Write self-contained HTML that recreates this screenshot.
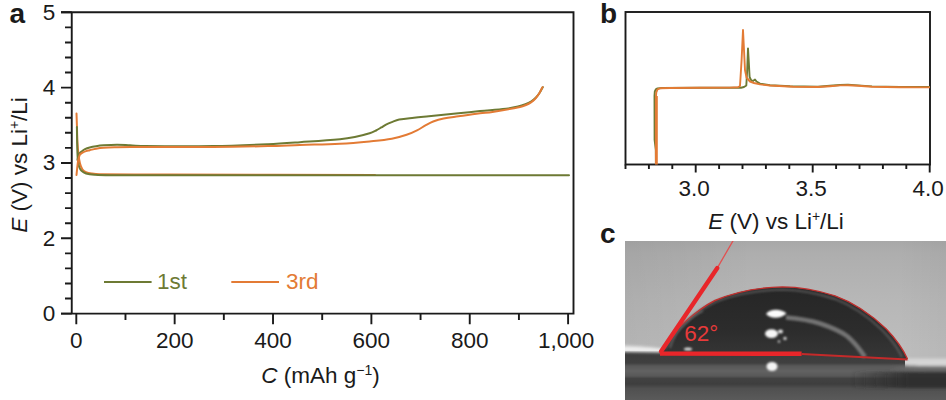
<!DOCTYPE html>
<html><head><meta charset="utf-8"><style>
html,body{margin:0;padding:0;background:#fff;}
svg{display:block;}
.t{font-family:"Liberation Sans",sans-serif;font-size:22.5px;fill:#1a1a1a;letter-spacing:0px;}
.b{font-family:"Liberation Sans",sans-serif;font-size:28px;font-weight:bold;fill:#1a1a1a;}
</style></head><body>
<svg width="946" height="400" viewBox="0 0 946 400">
<path d="M71.75,11.350000000000001 V314.55 M573.5,11.350000000000001 V314.55 M61,12.3 H573.5 M61,313.6 H573.5" stroke="#1a1a1a" stroke-width="1.9" fill="none"/>
<path d="M61,12.30H71.75M65,27.37H71.75M65,42.43H71.75M65,57.50H71.75M65,72.56H71.75M61,87.62H71.75M65,102.69H71.75M65,117.76H71.75M65,132.82H71.75M65,147.89H71.75M61,162.95H71.75M65,178.02H71.75M65,193.08H71.75M65,208.15H71.75M65,223.21H71.75M61,238.28H71.75M65,253.34H71.75M65,268.41H71.75M65,283.47H71.75M65,298.54H71.75M61,313.60H71.75" stroke="#1a1a1a" stroke-width="1.9" fill="none"/>
<path d="M76.30,313.6V324.3M125.48,313.6V320M174.66,313.6V324.3M223.84,313.6V320M273.02,313.6V324.3M322.20,313.6V320M371.38,313.6V324.3M420.56,313.6V320M469.74,313.6V324.3M518.92,313.6V320M568.10,313.6V324.3" stroke="#1a1a1a" stroke-width="1.9" fill="none"/>
<text x="55.3" y="19.60" text-anchor="end" class="t">5</text>
<text x="55.3" y="94.92" text-anchor="end" class="t">4</text>
<text x="55.3" y="170.25" text-anchor="end" class="t">3</text>
<text x="55.3" y="245.58" text-anchor="end" class="t">2</text>
<text x="55.3" y="320.90" text-anchor="end" class="t">0</text>
<text x="76.30" y="347.5" text-anchor="middle" class="t">0</text>
<text x="174.66" y="347.5" text-anchor="middle" class="t">200</text>
<text x="273.02" y="347.5" text-anchor="middle" class="t">400</text>
<text x="371.38" y="347.5" text-anchor="middle" class="t">600</text>
<text x="469.74" y="347.5" text-anchor="middle" class="t">800</text>
<text x="566.10" y="347.5" text-anchor="middle" class="t">1,000</text>
<text x="320.5" y="382.5" text-anchor="middle" class="t"><tspan font-style="italic">C</tspan> (mAh g<tspan dy="-8" font-size="14">−1</tspan><tspan dy="8">)</tspan></text>
<text transform="translate(27,165) rotate(-90)" text-anchor="middle" class="t"><tspan font-style="italic">E</tspan> (V) vs Li<tspan dy="-8" font-size="14">+</tspan><tspan dy="8">/Li</tspan></text>
<text x="9.4" y="22.8" class="b">a</text>
<text x="600" y="23.2" class="b">b</text>
<text x="600" y="243" class="b">c</text>
<path d="M104,282H151.6" stroke="#6d7a34" stroke-width="2.2"/>
<text x="157" y="289.3" class="t" style="fill:#6d7a34">1st</text>
<path d="M231.3,282H279" stroke="#e37b35" stroke-width="2.2"/>
<text x="286" y="289.3" class="t" style="fill:#e37b35">3rd</text>
<g fill="none" stroke-width="2.0" stroke-linejoin="round" stroke-linecap="round">
<path d="M76.5,113.5 L76.9,125 L77.3,140  C77.66,144.68 77.76,148.34 78.3,153 C78.74,156.80 79.06,159.79 80,163.5 C80.58,165.77 81.17,167.57 82.5,169.5 C83.40,170.81 84.54,171.57 86,172.2 C88.04,173.08 89.80,173.29 92,173.6 C94.86,174.01 97.11,174.17 100,174.2 C125.20,174.49 144.80,174.42 170,174.5 C243.80,174.74 301.20,174.88 375,175.1" stroke="#e37b35"/>
<path d="M76.9,127 L77.1,140  C77.21,144.32 77.21,147.68 77.4,152 C77.54,155.24 77.61,157.78 78,161 C78.26,163.19 78.46,164.93 79.2,167 C79.74,168.51 80.34,169.70 81.5,170.8 C82.87,172.11 84.19,172.96 86,173.5 C89.14,174.43 91.73,174.57 95,174.8 C100.39,175.18 104.60,175.20 110,175.2 C275.24,175.34 403.76,175.20 569,175.2" stroke="#6d7a34"/>
<path d="M77.5,160 C78.04,157.84 78.04,156.01 79,154 C79.54,152.87 80.53,152.38 81.5,151.6 C82.69,150.65 83.63,149.88 85,149.2 C86.61,148.40 87.96,147.97 89.7,147.5 C91.93,146.89 93.71,146.56 96,146.2 C98.69,145.77 100.79,145.49 103.5,145.3 C108.35,144.95 112.14,144.70 117,144.7 C121.68,144.70 125.32,145.07 130,145.3 C135.40,145.57 139.59,146.05 145,146.1 C169.48,146.34 188.52,146.48 213,146.1 C232.81,145.79 248.21,145.09 268,144.2 C279.53,143.68 288.49,143.00 300,142.2 C314.41,141.20 325.62,140.56 340,139.2 C345.36,138.69 349.52,138.05 354.8,137 C360.19,135.93 364.35,134.91 369.6,133.3 C372.00,132.56 373.75,131.62 376,130.5 C378.00,129.50 379.47,128.54 381.4,127.4 C383.07,126.41 384.27,125.48 386,124.6 C388.03,123.57 389.67,122.91 391.8,122.1 C394.43,121.10 396.44,120.13 399.2,119.6 C404.47,118.58 408.67,118.39 414,117.8 C419.32,117.21 423.47,116.84 428.8,116.3 C434.13,115.76 438.27,115.34 443.6,114.8 C448.93,114.26 453.07,113.84 458.4,113.3 C466.18,112.51 472.22,111.85 480,111.1 C489.36,110.20 496.67,109.81 506,108.7 C510.36,108.18 513.72,107.57 518,106.6 C520.72,105.98 522.80,105.30 525.4,104.3 C527.49,103.50 529.12,102.81 531,101.6 C532.96,100.34 534.36,99.16 536,97.5 C537.44,96.04 538.34,94.69 539.5,93 C540.32,91.80 540.78,90.76 541.5,89.5 C541.97,88.67 542.33,88.03 542.8,87.2" stroke="#6d7a34"/>
<path d="M76.5,175 L77.2,168 L78,161 L79,157 L80,154.4  C81.08,153.68 81.86,153.03 83,152.4 C84.03,151.83 84.88,151.47 86,151.1 C87.30,150.67 88.37,150.52 89.7,150.2 C91.97,149.66 93.71,149.12 96,148.7 C98.68,148.21 100.78,147.89 103.5,147.7 C108.35,147.35 112.14,147.32 117,147.2 C122.04,147.07 125.96,147.01 131,147 C160.52,146.94 183.48,147.19 213,147 C232.80,146.87 248.20,146.56 268,146.1 C279.52,145.84 288.48,145.38 300,145 C314.40,144.52 325.61,144.44 340,143.7 C350.67,143.15 358.96,142.41 369.6,141.4 C377.61,140.64 383.88,140.21 391.8,138.8 C397.23,137.83 401.37,136.56 406.6,134.8 C410.47,133.50 413.35,132.12 417,130.3 C420.28,128.66 422.58,126.95 425.8,125.2 C428.42,123.78 430.41,122.55 433.2,121.5 C436.85,120.13 439.78,119.29 443.6,118.5 C448.88,117.41 453.07,117.06 458.4,116.3 C466.17,115.19 472.21,114.29 480,113.3 C484.45,112.74 487.97,112.70 492.4,112 C502.37,110.43 510.11,109.06 520,107 C522.23,106.54 523.90,105.88 526,105 C527.87,104.22 529.31,103.53 531,102.4 C532.57,101.35 533.67,100.35 535,99 C536.13,97.85 536.86,96.81 537.8,95.5 C538.67,94.29 539.26,93.29 540,92 C540.60,90.95 540.94,90.07 541.5,89 C541.84,88.34 542.14,87.85 542.5,87.2" stroke="#e37b35"/>
</g>
<rect x="625.5" y="12.0" width="304.5" height="152.5" stroke="#1a1a1a" stroke-width="1.9" fill="none"/>
<path d="M625.50,164.5V169M648.90,164.5V169M672.30,164.5V169M695.70,164.5V172.5M719.10,164.5V169M742.50,164.5V169M765.90,164.5V169M789.30,164.5V169M812.70,164.5V172.5M836.10,164.5V169M859.50,164.5V169M882.90,164.5V169M906.30,164.5V169M929.70,164.5V172.5" stroke="#1a1a1a" stroke-width="1.9" fill="none"/>
<text x="694.20" y="195.5" text-anchor="middle" class="t">3.0</text>
<text x="811.20" y="195.5" text-anchor="middle" class="t">3.5</text>
<text x="928.20" y="195.5" text-anchor="middle" class="t">4.0</text>
<text x="776" y="229.3" text-anchor="middle" class="t"><tspan font-style="italic">E</tspan> (V) vs Li<tspan dy="-8" font-size="14">+</tspan><tspan dy="8">/Li</tspan></text>
<g fill="none" stroke-width="1.9" stroke-linejoin="round">
<path d="M655.9,164 L655.8,150 L654.6,140 L654.5,96 L654.8,91.5 L655.8,89.4 L657.5,88.4 L662,88 L700,87.8 L735,87.6 L741,87.7 L744,87 L746.3,85.5 L747.2,70 L748,48.4 L748.8,62 L749.6,77 L751,80 L753,81 L755,79.5 L756.5,81.5 L760,83.6 L770,85.2 L790,86.3 L818,86.8 L830,85.8 L840,85 L848,84.8 L858,85.4 L872,86.4 L900,86.9 L930,87.0" stroke="#6d7a34"/>
<path d="M655.9,164 L655.9,97 L656.3,92.5 L657.5,89.3 L660,88.3 L670,88 L700,87.8 L730,87.6 L738,87.3 L740,86 L741.6,60 L743,30 L744,50 L745,70 L746.5,77.5 L750,81.5 L754,83 L760,84.4 L770,85.5 L793,86.7 L818,87 L830,86.2 L840,85.4 L848,85.2 L858,85.8 L872,86.8 L900,87.3 L930,87.4" stroke="#e37b35"/>
<path d="M656.4,164.5 L656.4,96" stroke="#e37b35" stroke-width="2.8"/>
</g>

<defs>
 <linearGradient id="sky" x1="0" y1="241" x2="0" y2="350" gradientUnits="userSpaceOnUse">
  <stop offset="0" stop-color="#a8a8a8"/>
  <stop offset="0.12" stop-color="#aeaeae"/>
  <stop offset="0.55" stop-color="#b7b7b7"/>
  <stop offset="1" stop-color="#bdbdbd"/>
 </linearGradient>
 <linearGradient id="skyh" x1="625" y1="0" x2="946" y2="0" gradientUnits="userSpaceOnUse">
  <stop offset="0" stop-color="#000" stop-opacity="0.05"/>
  <stop offset="0.4" stop-color="#000" stop-opacity="0"/>
  <stop offset="0.85" stop-color="#000" stop-opacity="0"/>
  <stop offset="1" stop-color="#000" stop-opacity="0.03"/>
 </linearGradient>
 <linearGradient id="ground" x1="0" y1="350" x2="0" y2="400" gradientUnits="userSpaceOnUse">
  <stop offset="0" stop-color="#3a3a3a"/>
  <stop offset="0.26" stop-color="#404040"/>
  <stop offset="0.32" stop-color="#585858"/>
  <stop offset="0.42" stop-color="#626262"/>
  <stop offset="0.52" stop-color="#585858"/>
  <stop offset="0.57" stop-color="#424242"/>
  <stop offset="0.68" stop-color="#3e3e3e"/>
  <stop offset="0.77" stop-color="#505050"/>
  <stop offset="1" stop-color="#5a5a5a"/>
 </linearGradient>
 <linearGradient id="drop" x1="0" y1="287" x2="0" y2="358" gradientUnits="userSpaceOnUse">
  <stop offset="0" stop-color="#262626"/>
  <stop offset="0.6" stop-color="#2c2c2c"/>
  <stop offset="1" stop-color="#363636"/>
 </linearGradient>

 <linearGradient id="gR1" x1="890" y1="0" x2="915" y2="0" gradientUnits="userSpaceOnUse"><stop offset="0" stop-color="#6c6c6c" stop-opacity="0"/><stop offset="1" stop-color="#6c6c6c" stop-opacity="1"/></linearGradient>
 <linearGradient id="gR2" x1="850" y1="0" x2="910" y2="0" gradientUnits="userSpaceOnUse"><stop offset="0" stop-color="#2c2c2c" stop-opacity="0"/><stop offset="1" stop-color="#2c2c2c" stop-opacity="0.9"/></linearGradient>
 <linearGradient id="gL1" x1="625" y1="0" x2="760" y2="0" gradientUnits="userSpaceOnUse"><stop offset="0" stop-color="#707070" stop-opacity="0.8"/><stop offset="1" stop-color="#707070" stop-opacity="0"/></linearGradient>
 <linearGradient id="gL2" x1="625" y1="0" x2="740" y2="0" gradientUnits="userSpaceOnUse"><stop offset="0" stop-color="#6e6e6e" stop-opacity="0.8"/><stop offset="1" stop-color="#6e6e6e" stop-opacity="0"/></linearGradient>
 <filter id="bl" x="-20%" y="-20%" width="140%" height="140%"><feGaussianBlur stdDeviation="0.8"/></filter>
 <filter id="bl3" x="-20%" y="-50%" width="140%" height="200%"><feGaussianBlur stdDeviation="0.4 1.6"/></filter>
 <filter id="bl2" x="-50%" y="-50%" width="200%" height="200%"><feGaussianBlur stdDeviation="1.2"/></filter>
 <clipPath id="pc"><rect x="625" y="241" width="321" height="159"/></clipPath>
</defs>
<g clip-path="url(#pc)">
 <rect x="625" y="241" width="321" height="159" fill="url(#sky)"/>
 <rect x="625" y="241" width="321" height="159" fill="url(#skyh)"/>
 <path d="M625,351 L661,351 L700,345 L880,345 L907.5,359.2 L912,363 L946,363 L946,400 L625,400 Z" fill="url(#ground)"/>
 <g filter="url(#bl3)">
  <path d="M625,345.5 C640,346 652,347 662,348.5 L662,352.5 L625,352 Z" fill="#e2e2e2"/>
  <path d="M625,348 L662,349.5 L662,351.5 L625,351 Z" fill="#f4f4f4"/>
  <path d="M905,358.4 C920,358.4 935,358.4 960,358.4 L960,366.5 C935,366.3 920,366 905,365.5 Z" fill="#d6d6d6"/>
  <path d="M890,366 L960,366.5 L960,372 L890,371 Z" fill="url(#gR1)"/>
  <path d="M850,371.5 L960,371.5 L960,388 L850,388 Z" fill="url(#gR2)"/>
 </g>
 <path d="M661,351 C666,343 674,331 685,322 C694,314 704,306 715,300.5 C735,292 755,287.5 782.5,286.9 C800,287 818,290.5 835,295.8 C851,301.5 869,312.5 886.3,329 C894,337 902.5,348 907.5,359 L801,354 Z" fill="url(#drop)"/>
 <path d="M665,349 C672,336 680,326 690,318 C700,310 710,304 720,300 C740,293 760,290 782.5,289.6 C800,290 818,293.5 835,299 C851,305 867,315.5 882,330 C890,338 897,347 902,357" fill="none" stroke="#5e5e5e" stroke-width="2.4" opacity="0.75" filter="url(#bl)"/>
 <path d="M661,351 C666,343 674,331 685,322 C694,314 704,306 715,300.5 C735,292 755,287.5 782.5,286.9 C800,287 818,290.5 835,295.8 C851,301.5 869,312.5 886.3,329 C894,337 902.5,348 907.5,359" fill="none" stroke="#c0302e" stroke-width="1.4"/>
 <path d="M670,348 C673,338 678,330 685,324 C690,319 696,314 703,311" fill="none" stroke="#7a7a7a" stroke-width="1.6" opacity="0.7" filter="url(#bl)"/>
 <path d="M786,317.5 C798,318.5 809,320 820,323.5 C832,327.5 840,331 847,336 C853,341 859,348 865,357" fill="none" stroke="#7c7c7c" stroke-width="4.6" opacity="0.9" filter="url(#bl)"/>
 <g filter="url(#bl2)">
  <path d="M766,314 C770,308.5 781,308.5 786.5,313.5 C781,319 770,319 766,314 Z" fill="#fcfcfc"/>
  <ellipse cx="771.5" cy="333.6" rx="6.5" ry="4.3" fill="#f6f6f6"/>
  <ellipse cx="780.5" cy="331.5" rx="2.5" ry="2" fill="#e4e4e4"/>
  <circle cx="785" cy="338.4" r="1.6" fill="#e0e0e0"/>
  <circle cx="779" cy="341.5" r="1.2" fill="#cccccc"/>
  <ellipse cx="772" cy="366.5" rx="5.5" ry="4.5" fill="#f4f4f4"/>
  <ellipse cx="688" cy="349" rx="4" ry="1.5" fill="#e0e0e0"/>
 </g>
 <path d="M716.8,268.8 L733.5,240" stroke="#e25050" stroke-width="1.3"/>
 <path d="M661,351.5 L717.3,268.1" stroke="#e8262a" stroke-width="4.4" stroke-linecap="round"/>
 <path d="M660,353.6 L801.6,353.8" stroke="#e8262a" stroke-width="4.4"/>
 <path d="M801.6,354 L907.5,359.5" stroke="#c42a2a" stroke-width="1.8"/>
 <text x="684.3" y="341" class="t" style="fill:#e83a3a">62°</text>
</g>

</svg>
</body></html>
